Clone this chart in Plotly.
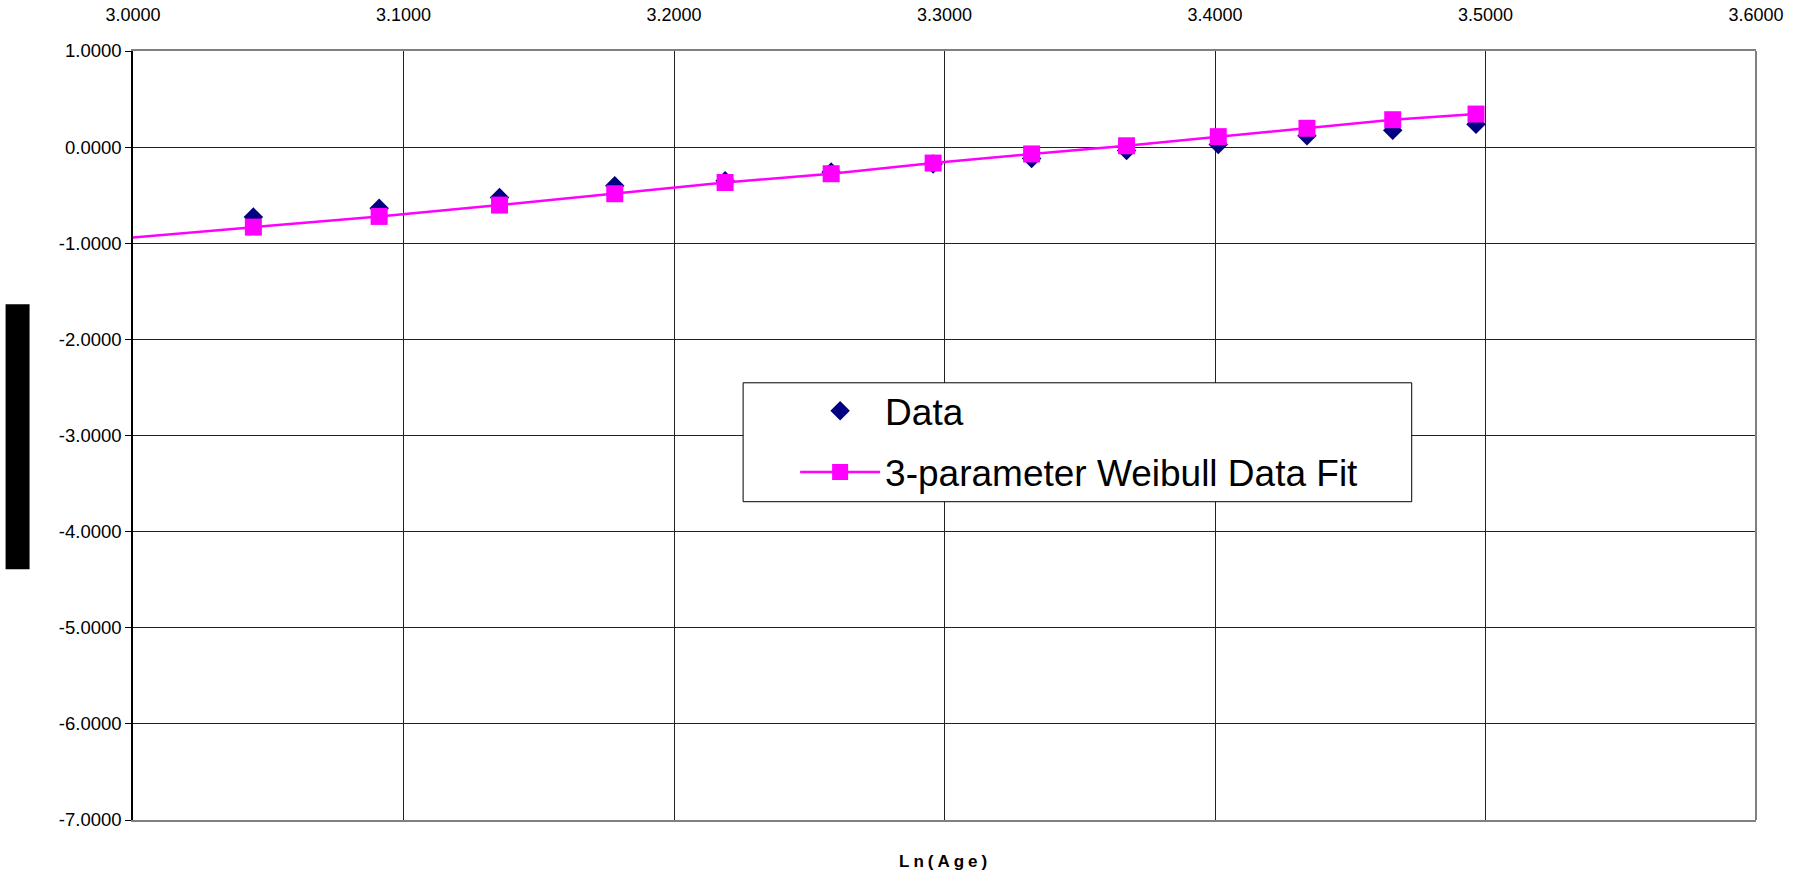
import plotly.graph_objects as go

# ---- data ----
ln_age = [3.0445, 3.0910, 3.1355, 3.1781, 3.2189, 3.2581, 3.2958,
          3.3322, 3.3673, 3.4012, 3.4340, 3.4657, 3.4965]
data_y = [-0.727, -0.636, -0.525, -0.401, -0.350, -0.260, -0.176,
          -0.118, -0.034, 0.027, 0.119, 0.175, 0.238]
fit_x = [2.9957] + ln_age
fit_y = [-0.950, -0.832, -0.721, -0.603, -0.485, -0.368, -0.277, -0.166,
         -0.071, 0.014, 0.109, 0.196, 0.285, 0.344]
x_ticks = [3.0, 3.1, 3.2, 3.3, 3.4, 3.5, 3.6]
x_ticktext = ["3.0000", "3.1000", "3.2000", "3.3000", "3.4000", "3.5000", "3.6000"]
y_ticks = [1, 0, -1, -2, -3, -4, -5, -6, -7]
y_ticktext = ["1.0000", "0.0000", "-1.0000", "-2.0000", "-3.0000", "-4.0000",
              "-5.0000", "-6.0000", "-7.0000"]

W, H = 1812, 879
L, R, T, B = 132.5, 1756.5, 50.5, 820.0
pw, ph = R - L, B - T


def px_x(p):
    return (p - L) / pw


def px_y(p):
    return 1 - (p - T) / ph


FONT = "Arial, Liberation Sans, sans-serif"

fig = go.Figure()
fig.add_trace(go.Scatter(
    x=ln_age, y=data_y, mode="markers", name="Data", legendgroup="a",
    marker=dict(symbol="diamond", size=15, color="#000080",
                line=dict(width=0)),
))
fig.add_trace(go.Scatter(
    x=fit_x, y=fit_y, mode="lines+markers", name="3-parameter Weibull Data Fit",
    legendgroup="b",
    line=dict(color="#FF00FF", width=2.5),
    marker=dict(symbol="square", size=17, color="#FF00FF", line=dict(width=0)),
))

fig.update_layout(
    width=W, height=H,
    margin=dict(l=L, r=W - R, t=T, b=H - B, pad=0, autoexpand=False),
    paper_bgcolor="white", plot_bgcolor="white",
    font=dict(family=FONT, color="black", size=18),
    showlegend=True,
    legend=dict(
        x=px_x(743), y=px_y(380), xanchor="left", yanchor="top",
        bgcolor="rgba(0,0,0,0)", borderwidth=0,
        font=dict(family=FONT, size=37, color="black"),
        tracegroupgap=10, itemwidth=80, indentation=52,
    ),
    xaxis=dict(
        side="top", range=[3.0, 3.6], tickvals=x_ticks, ticktext=x_ticktext,
        showgrid=True, gridcolor="#222222", gridwidth=1,
        ticks="", ticklabelstandoff=21, zeroline=False, automargin=False,
        showline=True, linecolor="#808080", linewidth=2, mirror=True,
        tickfont=dict(family=FONT, size=18),
    ),
    yaxis=dict(
        range=[-7, 1], tickvals=y_ticks, ticktext=y_ticktext,
        showgrid=True, gridcolor="#222222", gridwidth=1, zeroline=False,
        ticks="outside", ticklen=6, tickcolor="black", automargin=False,
        showline=True, linecolor="black", linewidth=1.5,
        tickfont=dict(family=FONT, size=18.5),
    ),
    shapes=[
        dict(type="line", xref="paper", yref="paper", x0=1, x1=1, y0=0, y1=1,
             line=dict(color="#808080", width=2)),
        dict(type="rect", xref="paper", yref="paper",
             x0=px_x(5), x1=px_x(29), y0=px_y(569), y1=px_y(304),
             fillcolor="black", line=dict(width=0)),
        # legend frame
        dict(type="rect", xref="paper", yref="paper", layer="above",
             x0=px_x(743), x1=px_x(1412), y0=px_y(501.5), y1=px_y(382.5),
             fillcolor="white", line=dict(color="black", width=1)),
    ],
    annotations=[
        dict(text="<b>Ln(Age)</b>", xref="paper", yref="paper", x=0.5,
             y=px_y(862), xanchor="center", yanchor="middle", showarrow=False,
             font=dict(family=FONT, size=17, color="black")),
    ],
)

post = (
    "document.body.style.margin='0';document.body.style.overflow='hidden';"
    "document.querySelectorAll('.annotation-text').forEach(function(e){"
    "e.style.letterSpacing='4px';});"
)
fig.write_html("out.html", post_script=post, config={"displayModeBar": False})
